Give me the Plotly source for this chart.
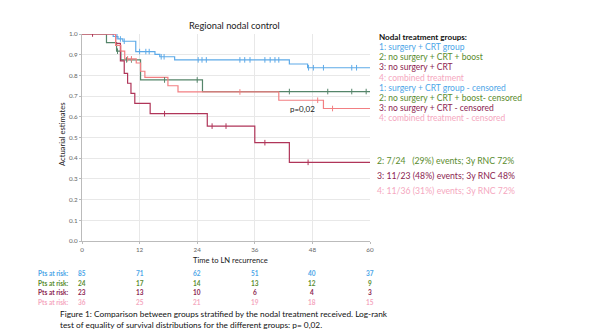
import plotly.graph_objects as go

# Kaplan-Meier style step curves (months, survival estimate)
g1_t = [0, 6.5, 7.5, 8.5, 11.2, 15.2, 16.2, 19.3, 43.2, 47.0, 60]
g1_s = [1.0, 0.988, 0.976, 0.965, 0.915, 0.902, 0.89, 0.875, 0.855, 0.837, 0.837]
g1_cens = [7.3, 8.0, 8.8, 12.0, 13.3, 14.0, 16.5, 17.1, 24.2, 25.0, 25.9, 32.9, 33.9,
           35.0, 38.1, 39.2, 40.2, 41.0, 47.2, 48.2, 50.3, 56.2, 57.2]

g2_t = [0, 5.1, 7.2, 8.1, 12.2, 25.1, 60]
g2_s = [1.0, 0.958, 0.917, 0.875, 0.778, 0.722, 0.722]
g2_cens = [7.4, 9.3, 10.3, 17.2, 24.0, 43.2, 51.2, 56.2, 59.2]

g3_t = [0, 7.0, 8.0, 8.8, 9.5, 10.2, 11.0, 14.2, 26.1, 36.0, 43.2, 60]
g3_s = [1.0, 0.955, 0.87, 0.81, 0.762, 0.713, 0.665, 0.615, 0.555, 0.475, 0.38, 0.38]
g3_cens = [2.2, 17.2, 27.1, 30.0, 38.1, 47.1]

g4_t = [0, 7.0, 8.1, 8.9, 11.3, 12.2, 13.1, 17.9, 20.0, 41.0, 50.3, 60]
g4_s = [1.0, 0.945, 0.917, 0.88, 0.86, 0.82, 0.79, 0.75, 0.72, 0.68, 0.64, 0.64]
g4_cens = [9.5, 10.3, 32.9, 49.1, 52.2]

# Numbers at risk at each 12-month mark
risk_times = [0, 12, 24, 36, 48, 60]
risk_g1 = [85, 71, 62, 51, 40, 37]
risk_g2 = [24, 17, 14, 13, 12, 9]
risk_g3 = [23, 13, 10, 6, 4, 3]
risk_g4 = [36, 25, 21, 19, 18, 15]

legend_title = "Nodal treatment groups:"
legend_items = [
    "1: surgery + CRT group",
    "2: no surgery + CRT + boost",
    "3: no surgery + CRT",
    "4: combined treatment",
    "1: surgery + CRT group - censored",
    "2: no surgery + CRT + boost- censored",
    "3: no surgery + CRT - censored",
    "4: combined treatment - censored",
]
summary_items = [
    "2: 7/24   (29%) events; 3y RNC 72%",
    "3: 11/23 (48%) events; 3y RNC 48%",
    "4: 11/36 (31%) events; 3y RNC 72%",
]
caption = ("Figure 1: Comparison between groups stratified by the nodal treatment received. Log-rank<br>"
           "test of equality of survival distributions for the different groups: p= 0,02.")

curve_colors = ["#5EAAE8", "#55856A", "#B03559", "#F27F82"]
text_colors = ["#4DA6E8", "#5A8C2E", "#8C2550", "#F5A8C0"]

FONT = "Lato"
W, H = 590, 332
L, R, T, B = 82, 220, 34, 91
PW = W - L - R
PH = H - T - B


def px_x(x):
    return (x - L) / PW


def px_y(y):
    return (H - B - y) / PH


def step_at(ts, ss, t):
    v = ss[0]
    for ti, si in zip(ts, ss):
        if ti <= t:
            v = si
    return v


def label(text, x, y, size, color, xanchor="center", xref="paper", yref="paper", **kw):
    return dict(text=text, x=x, y=y, xref=xref, yref=yref, xanchor=xanchor, yanchor="middle",
                showarrow=False, font=dict(family=FONT, size=size, color=color), **kw)


fig = go.Figure()
groups = [(g1_t, g1_s, g1_cens), (g2_t, g2_s, g2_cens), (g3_t, g3_s, g3_cens), (g4_t, g4_s, g4_cens)]
for i, (ts, ss, cs) in enumerate(groups):
    fig.add_trace(go.Scatter(x=ts, y=ss, mode="lines", line=dict(color=curve_colors[i], width=1.2, shape="hv"),
                             showlegend=False, hoverinfo="skip"))
for i, (ts, ss, cs) in enumerate(groups):
    fig.add_trace(go.Scatter(x=cs, y=[step_at(ts, ss, c) for c in cs], mode="markers",
                             marker=dict(symbol="line-ns", size=4, line=dict(color=curve_colors[i], width=1)),
                             showlegend=False, hoverinfo="skip"))

ann = []
ann.append(label("Regional nodal control", px_x(234), px_y(25), 9.3, "#222"))
ann.append(label("Time to LN recurrence", px_x(230), px_y(260), 7.6, "#222"))
ann.append(label("Actuarial estimates", px_x(62), px_y(135), 7.6, "#222", textangle=-90))
ann.append(label("p=0,02", 46.0, 0.636, 8, "#222", xref="x", yref="y"))

ann.append(label("<b>" + legend_title + "</b>", px_x(377), px_y(37), 8.1, "#111", xanchor="left"))
for k, item in enumerate(legend_items):
    ann.append(label(item, px_x(377), px_y(47 + k * 10.2), 8.5, text_colors[k % 4], xanchor="left"))

for k, item in enumerate(summary_items):
    ann.append(label(item, px_x(375), px_y(160.5 + k * 15), 8.7, text_colors[k + 1], xanchor="left"))

risk_rows = [risk_g1, risk_g2, risk_g3, risk_g4]
for r, row in enumerate(risk_rows):
    yy = px_y(273.5 + r * 9.6)
    ann.append(label("<b>Pts at risk:</b>", px_x(71), yy, 6.5, text_colors[r], xanchor="right"))
    for t, n in zip(risk_times, row):
        ann.append(label("<b>%d</b>" % n, t, yy, 6.5, text_colors[r], xref="x"))

ann.append(label(caption, px_x(58), px_y(319.5), 8.3, "#111", xanchor="left", align="left"))

fig.update_layout(
    width=W, height=H, margin=dict(l=L, r=R, t=T, b=B),
    paper_bgcolor="white", plot_bgcolor="white",
    annotations=ann,
    xaxis=dict(range=[0, 60], tickvals=risk_times, showgrid=True, gridcolor="#e8e8e8", gridwidth=1,
               zeroline=False, showline=True, linecolor="#bbbbbb", linewidth=1,
               ticks="outside", ticklen=2, tickcolor="#bbbbbb",
               tickfont=dict(family=FONT, size=6.3, color="#666")),
    yaxis=dict(range=[0, 1], dtick=0.1, tickformat=".1f", showgrid=True, gridcolor="#e8e8e8", gridwidth=1,
               zeroline=False, showline=True, linecolor="#bbbbbb", linewidth=1,
               ticks="outside", ticklen=2, tickcolor="#bbbbbb",
               tickfont=dict(family=FONT, size=6.3, color="#666")),
)

fig.write_html("out.html")
